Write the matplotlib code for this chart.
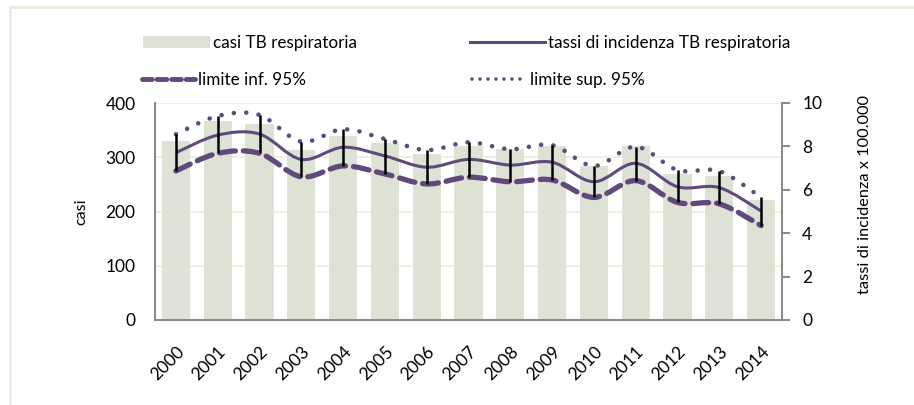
import matplotlib
matplotlib.use("Agg")
import matplotlib.pyplot as plt
import numpy as np
from matplotlib.path import Path
from matplotlib.patches import PathPatch, Rectangle
from matplotlib.lines import Line2D
from matplotlib.patches import Patch

plt.rcParams['font.family'] = ['Lato', 'DejaVu Sans']

years = ['2000', '2001', '2002', '2003', '2004', '2005', '2006', '2007',
         '2008', '2009', '2010', '2011', '2012', '2013', '2014']
casi = [330, 366, 361, 313, 340, 326, 306, 321, 315, 321, 283, 321, 270, 265, 222]
tassi = [7.71, 8.52, 8.57, 7.40, 7.96, 7.56, 7.04, 7.40, 7.14, 7.27, 6.37, 7.22, 6.14, 6.10, 5.02]
lim_inf = [6.87, 7.68, 7.68, 6.60, 7.10, 6.73, 6.27, 6.58, 6.37, 6.45, 5.65, 6.42, 5.42, 5.35, 4.35]
lim_sup = [8.56, 9.40, 9.45, 8.22, 8.79, 8.34, 7.83, 8.19, 7.87, 8.06, 7.10, 7.99, 6.91, 6.86, 5.65]

left_ticks = [0, 100, 200, 300, 400]
right_ticks = [0, 2, 4, 6, 8, 10]

BAR = '#DDE2D5'
PURPLE = '#604A7B'
GRID = '#EEECE1'
SPINE = '#8C8C8C'
W, H = 914, 405


def smooth_path(xs, ys):
    """Excel-style smoothed line as cubic Bezier segments (Catmull-Rom control points)."""
    pts = np.column_stack([xs, ys]).astype(float)
    n = len(pts)
    verts = [pts[0]]
    codes = [Path.MOVETO]
    for i in range(n - 1):
        p0 = pts[i - 1] if i > 0 else pts[i]
        p1 = pts[i]
        p2 = pts[i + 1]
        p3 = pts[i + 2] if i + 2 < n else pts[i + 1]
        c1 = p1 + (p2 - p0) / 6.0
        c2 = p2 - (p3 - p1) / 6.0
        verts += [c1, c2, p2]
        codes += [Path.CURVE4] * 3
    return Path(verts, codes)


fig = plt.figure(figsize=(W / 100, H / 100), dpi=100)

# outer frame
fig.patches.append(Rectangle((10 / W, -0.05), 1.0, 1.0 - 7 / H + 0.05,
                             transform=fig.transFigure, fill=False,
                             edgecolor=GRID, linewidth=2, zorder=0))

ax = fig.add_axes([155 / W, 1 - 320 / H, (782 - 155) / W, (320 - 103) / H])
x = np.arange(len(years))
ax.bar(x, casi, width=0.67, color=BAR, zorder=2)
ax.set_xlim(-0.5, len(years) - 0.5)
ax.set_ylim(0, 400)
ax.set_yticks(left_ticks)
ax.set_yticklabels([str(t) for t in left_ticks])
ax.yaxis.grid(True, color=GRID, linewidth=1.2)
ax.set_axisbelow(True)
ax.set_xticks(x)
ax.set_xticklabels(years, rotation=45, ha='right', va='top', rotation_mode='anchor')
ax.tick_params(axis='x', length=0, pad=17, labelsize=12.5)
ax.tick_params(axis='y', length=0, pad=14, labelsize=12.5)
for s in ['top', 'right']:
    ax.spines[s].set_visible(False)
for s in ['left', 'bottom']:
    ax.spines[s].set_color(SPINE)
    ax.spines[s].set_linewidth(1.5)
ax.set_ylabel('casi', fontsize=11.5, labelpad=12)

ax2 = ax.twinx()
ax2.set_ylim(0, 10)
ax2.set_xlim(ax.get_xlim())
ax2.set_yticks(right_ticks)
ax2.set_yticklabels([str(t) for t in right_ticks])
ax2.tick_params(axis='y', length=5.5, width=1.5, color=SPINE, pad=9, labelsize=12.5)
for s in ['top', 'left', 'bottom']:
    ax2.spines[s].set_visible(False)
ax2.spines['right'].set_color(SPINE)
ax2.spines['right'].set_linewidth(1.5)
ax2.set_ylabel('tassi di incidenza x 100.000', fontsize=11.8, labelpad=26)
ax2.yaxis.label.set_y((320 - 195) / 217)
ax2.patch.set_visible(False)

# confidence lines (smoothed)
p_sup = PathPatch(smooth_path(x, lim_sup), fill=False, edgecolor=PURPLE,
                  linewidth=3.3, linestyle=(0, (0.01, 2.7)), capstyle='round', zorder=3)
p_inf = PathPatch(smooth_path(x, lim_inf), fill=False, edgecolor=PURPLE,
                  linewidth=3.8, linestyle=(0, (3.0, 1.5)), capstyle='round', zorder=3)
p_mid = PathPatch(smooth_path(x, tassi), fill=False, edgecolor=PURPLE,
                  linewidth=2.2, linestyle='-', zorder=3)
for p in (p_sup, p_inf, p_mid):
    ax2.add_patch(p)

# error bars
ax2.vlines(x, lim_inf, lim_sup, colors='black', linewidth=1.8, zorder=4)

# legend: one entry each, placed like the original
FS = 12.3
px_per_fs = FS * 100 / 72
entries = [
    (Patch(facecolor=BAR, edgecolor='none'), 'casi TB respiratoria', 143, 43, 67),
    (Line2D([], [], color=PURPLE, linewidth=2.2), 'tassi di incidenza TB respiratoria', 470, 43, 75),
    (Line2D([], [], color=PURPLE, linewidth=3.5, linestyle=(0, (2.0, 1.0)),
            dash_capstyle='round'), 'limite inf. 95%', 142, 80, 53),
    (Line2D([], [], color=PURPLE, linewidth=2.6, linestyle=(0, (0.01, 2.2)),
            dash_capstyle='round'), 'limite sup. 95%', 472, 80, 55),
]
for h, lab, xp, yp, hl in entries:
    fig.legend([h], [lab], loc='center left', bbox_to_anchor=(xp / W, 1 - yp / H),
               frameon=False, fontsize=FS, handlelength=hl / px_per_fs,
               handleheight=0.75, handletextpad=0.2, borderpad=0, borderaxespad=0)

fig.savefig('out.png', dpi=100)
